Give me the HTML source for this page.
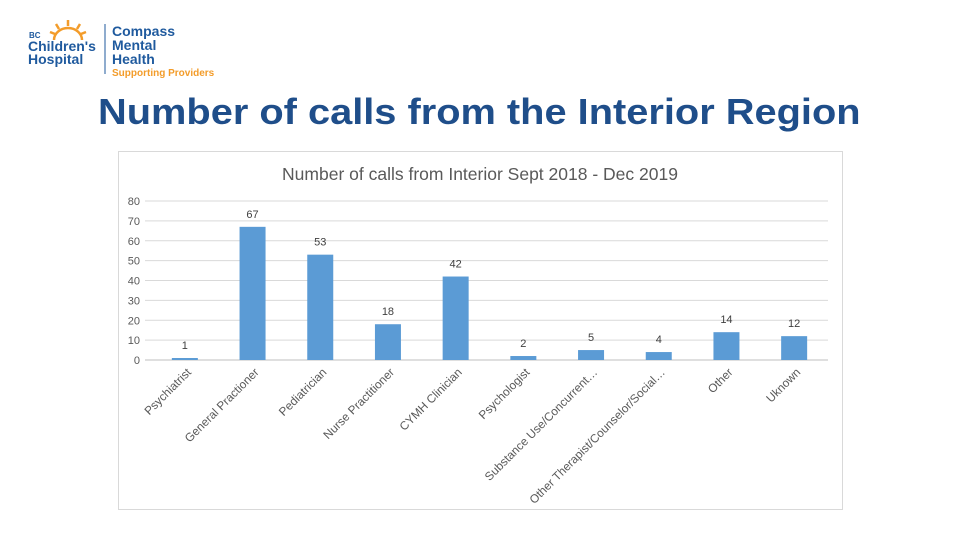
<!DOCTYPE html>
<html><head><meta charset="utf-8"><style>
body{margin:0;width:960px;height:540px;background:#fff;position:relative;overflow:hidden;font-family:"Liberation Sans",sans-serif}
#logo{position:absolute;left:28px;top:14px}
#heading{position:absolute;left:98px;top:91px;font-size:36px;font-weight:bold;color:#1f4e8a;white-space:nowrap;margin:0;transform:scaleX(1.105);transform-origin:0 0}
</style></head><body>
<div id="logo">
<svg width="200" height="66">
<g stroke="#f39c2a" stroke-width="2.5"><line x1="40" y1="6" x2="40" y2="12"/><line x1="28" y1="10" x2="31" y2="15"/><line x1="52" y1="10" x2="49" y2="15"/><line x1="22" y1="18" x2="27" y2="20"/><line x1="58" y1="18" x2="53" y2="20"/></g>
<path d="M26 26 A14 12 0 0 1 54 26" fill="none" stroke="#f39c2a" stroke-width="2.5"/>
<text x="1" y="24" font-size="8" font-weight="bold" fill="#1f5a9e">BC</text>
<text x="0" y="37" font-size="14" font-weight="bold" fill="#1f5a9e">Children's</text>
<text x="0" y="50" font-size="14" font-weight="bold" fill="#1f5a9e">Hospital</text>
<line x1="77" y1="10" x2="77" y2="60" stroke="#1f5a9e" stroke-width="1"/>
<text x="84" y="22" font-size="14" font-weight="bold" fill="#1f5a9e">Compass</text>
<text x="84" y="36" font-size="14" font-weight="bold" fill="#1f5a9e">Mental</text>
<text x="84" y="50" font-size="14" font-weight="bold" fill="#1f5a9e">Health</text>
<text x="84" y="62" font-size="10" font-weight="bold" fill="#f39c2a">Supporting Providers</text>
</svg></div>
<h1 id="heading">Number of calls from the Interior Region</h1>
<svg id="chart" width="960" height="540" style="position:absolute;left:0;top:0"></svg>
<script>
const categories=["Psychiatrist","General Practioner","Pediatrician","Nurse Practitioner","CYMH Clinician","Psychologist","Substance Use/Concurrent…","Other Therapist/Counselor/Social…","Other","Uknown"];
const values=[1,67,53,18,42,2,5,4,14,12];
const yTicks=[0,10,20,30,40,50,60,70,80];
const NS="http://www.w3.org/2000/svg";
const svg=document.getElementById('chart');
const x0=151,x1=828,y0=360,y1=201,yMax=80;
const bw=(x1-x0)/categories.length;
const ys=v=>y0-(v/yMax)*(y0-y1);
const xc=i=>x0+bw*(i+0.5);
function mk(t,a,p){const e=document.createElementNS(NS,t);for(const k in a)e.setAttribute(k,a[k]);(p||svg).appendChild(e);return e;}
const frame=mk('rect',{x:118.5,y:151.5,width:724,height:358,fill:'#fff',stroke:'#d9d9d9'});


const title=mk('text',{x:480,y:180,'text-anchor':'middle','font-size':17.5,fill:'#595959'});
title.textContent="Number of calls from Interior Sept 2018 - Dec 2019";


yTicks.forEach(t=>{
 const g=mk('line',{x1:145,x2:x1,y1:ys(t),y2:ys(t),stroke:t===0?'#bfbfbf':'#d9d9d9'});
 
 
 const l=mk('text',{x:140,y:ys(t)+4,'text-anchor':'end','font-size':11,fill:'#595959'});
 l.textContent=t;
 
 
});
values.forEach((v,i)=>{
 const b=mk('rect',{x:xc(i)-13,y:ys(v),width:26,height:y0-ys(v),fill:'#5b9bd5'});
 
 
 const d=mk('text',{x:xc(i),y:ys(v)-9,'text-anchor':'middle','font-size':11,fill:'#404040'});
 d.textContent=v;
 
 
 const c=mk('text',{x:0,y:0,'text-anchor':'end','font-size':11.8,fill:'#595959',transform:`translate(${xc(i)+7},${y0+13}) rotate(-45)`});
 c.textContent=categories[i];
 
 
});
</script>
</body></html>
